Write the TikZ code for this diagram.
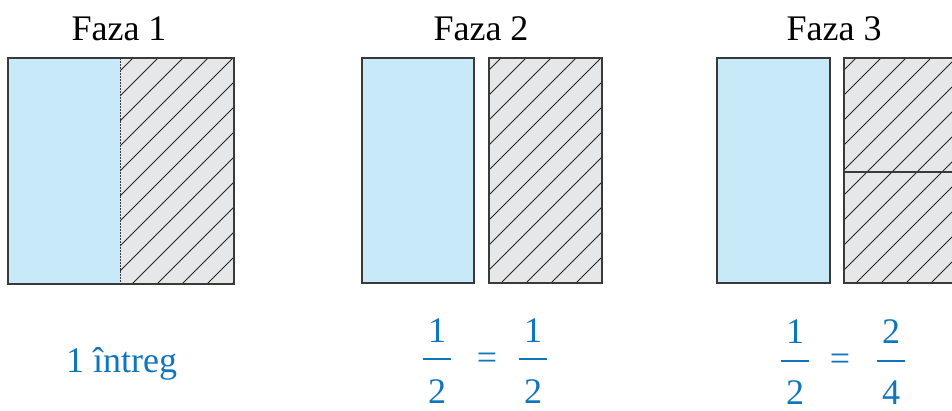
\documentclass[tikz,border=0pt]{standalone}
\usepackage{fontspec}
\setmainfont{Liberation Serif}
\definecolor{fblue}{HTML}{C7E9F8}
\definecolor{fgray}{HTML}{E6E7E8}
\definecolor{tblue}{RGB}{16,118,188}
\definecolor{edgegray}{HTML}{3A3A3A}
\tikzset{
  title/.style={font=\fontsize{36}{40}\selectfont, anchor=base, inner sep=0pt},
  val/.style={title, text=tblue},
  fracbar/.style={draw=tblue, line width=1.4pt},
  boxline/.style={draw=edgegray, line width=1.3pt},
  hatchline/.style={draw=black!85, line width=0.8pt},
  divline/.style={draw=edgegray, line width=0.9pt, dash pattern=on 2pt off 1pt},
}
\newcommand\hatchfill[4]{%
  \fill[fgray] (#1,#2) rectangle (#3,#4);
  \begin{scope}
    \clip (#1,#2) rectangle (#3,#4);
    \foreach \k in {-12,...,12} \draw[hatchline] ({#1+12+25*\k},#4) -- ++(300,-300);
  \end{scope}}
\begin{document}
\begin{tikzpicture}[x=1pt,y=-1pt]
\useasboundingbox (0,0) rectangle (952,410);
% titles
\node[title] (t1) at (119,40) {Faza 1};
\node[title] (t2) at (481,40) {Faza 2};
\node[title] (t3) at (834,40) {Faza 3};
% phase 1
\fill[fblue] (8,58) rectangle (120,284);
\hatchfill{120}{58}{234}{284}
\draw[divline] (120,58) -- (120,284);
\draw[boxline] (8,58) rectangle (234,284);
% phase 2
\fill[fblue] (362,58) rectangle (474,283);
\draw[boxline] (362,58) rectangle (474,283);
\hatchfill{489}{58}{602}{283}
\draw[boxline] (489,58) rectangle (602,283);
% phase 3
\fill[fblue] (717,58) rectangle (830,283);
\draw[boxline] (717,58) rectangle (830,283);
\hatchfill{844}{58}{980}{283}
\draw[boxline] (844,58) rectangle (980,283);
\draw[boxline] (844,172) -- (980,172);
% labels
\node[val, anchor=base west] (w1) at (66,372) {1 întreg};
% 1/2 = 1/2
\node[val] (a1) at (437,342) {1};
\draw[fracbar] (423,359) -- (451,359);
\node[val] (a2) at (437,403) {2};
\node[val] (eqa) at (487,369) {=};
\node[val] (b1) at (533,342) {1};
\draw[fracbar] (519,359) -- (547,359);
\node[val] (b2) at (533,403) {2};
% 1/2 = 2/4
\node[val] (c1) at (795,343) {1};
\draw[fracbar] (781,361) -- (809,361);
\node[val] (c2) at (795,404) {2};
\node[val] (eqb) at (840,370) {=};
\node[val] (d1) at (891,343) {2};
\draw[fracbar] (877,361) -- (905,361);
\node[val] (d2) at (891,404) {4};
\end{tikzpicture}
\end{document}
